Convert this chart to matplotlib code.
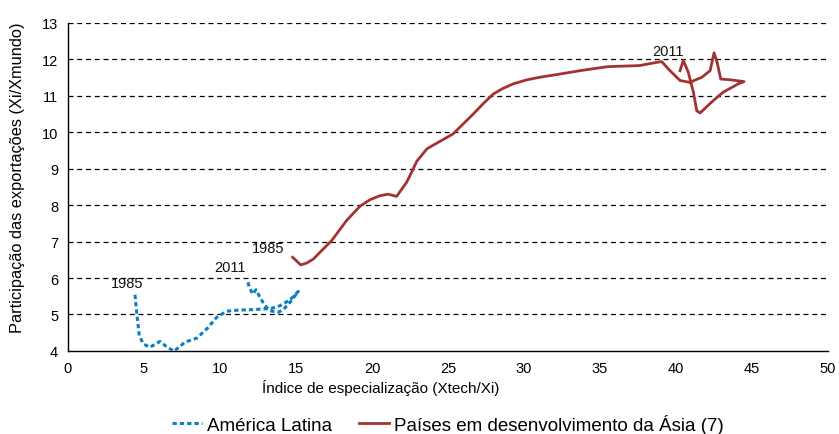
import matplotlib.pyplot as plt

# ---- data ----
# América Latina (1985 -> 2011)
la_x = [4.41, 4.52, 4.69, 4.96, 5.39, 6.05, 6.38, 6.97, 7.70, 8.47, 9.12, 9.78, 10.44,
        11.20, 12.00, 12.85, 13.40, 13.95, 14.60, 15.15, 14.60, 14.20, 13.84, 13.30,
        12.96, 12.63, 12.37, 12.15, 11.93, 11.80]
la_y = [5.54, 5.06, 4.42, 4.19, 4.10, 4.26, 4.15, 3.99, 4.24, 4.35, 4.60, 4.92, 5.09,
        5.12, 5.13, 5.15, 5.17, 5.24, 5.40, 5.63, 5.33, 5.15, 5.06, 5.10,
        5.24, 5.47, 5.68, 5.56, 5.75, 5.93]

# Países em desenvolvimento da Ásia (7) (1985 -> 2011)
as_x = [14.78, 15.31, 15.70, 16.14, 16.80, 17.35, 18.33, 19.21, 19.87, 20.53, 21.07,
        21.62, 22.28, 22.60, 22.94, 23.60, 24.04, 24.47, 25.35, 26.00, 26.66, 27.30,
        27.98, 28.60, 29.30, 30.20, 31.05, 32.40, 33.68, 35.50, 37.60, 38.50, 39.05,
        39.60, 40.26, 40.90, 41.70, 42.24, 42.50, 42.70, 42.94, 43.55, 44.47, 44.10,
        43.10, 42.45, 41.58, 41.36, 41.14, 40.80, 40.48, 40.26]
as_y = [6.57, 6.36, 6.41, 6.52, 6.80, 7.03, 7.58, 7.97, 8.15, 8.26, 8.30,
        8.24, 8.63, 8.90, 9.20, 9.54, 9.65, 9.75, 9.96, 10.23, 10.50, 10.78,
        11.05, 11.20, 11.33, 11.44, 11.51, 11.60, 11.69, 11.80, 11.83, 11.90, 11.94,
        11.69, 11.42, 11.37, 11.51, 11.69, 12.18, 11.92, 11.46, 11.44, 11.39, 11.33,
        11.10, 10.87, 10.53, 10.59, 11.10, 11.65, 11.97, 11.69]

year_labels = ['1985', '2011', '1985', '2011']
label_x = [3.9, 10.66, 13.15, 39.5]
label_y = [5.87, 6.30, 6.83, 12.23]

BLUE = '#0a7fc4'
RED = '#a33333'

plt.rcParams['font.family'] = ['Liberation Sans', 'DejaVu Sans']

fig = plt.figure(figsize=(8.39, 4.35), dpi=100)
ax = fig.add_axes([0.081, 0.191, 0.906, 0.754])

for yv in range(5, 14):
    ax.axhline(yv, color='black', lw=0.9, ls=(0, (4, 3)), zorder=1)

ax.plot(la_x, la_y, color=BLUE, lw=2.2, ls=(0, (1.4, 1.0)), label='América Latina', zorder=3)
ax.plot(as_x, as_y, color=RED, lw=2.0, label='Países em desenvolvimento da Ásia (7)', zorder=3)

for t, x, y in zip(year_labels, label_x, label_y):
    ax.text(x, y, t, fontsize=10.5, ha='center', va='center', color='#111111', zorder=4)

ax.set_xlim(0, 50)
ax.set_ylim(4, 13)
ax.set_xticks(range(0, 51, 5))
ax.set_yticks(range(4, 14))
ax.tick_params(length=0, labelsize=10.5, pad=7)
for s in ['top', 'right']:
    ax.spines[s].set_visible(False)
ax.spines['left'].set_linewidth(1.0)
ax.spines['bottom'].set_linewidth(1.0)

ax.set_xlabel('Índice de especialização (Xtech/Xi)', fontsize=11)
ax.xaxis.set_label_coords(0.412, -0.085)
ax.set_ylabel('Participação das exportações (Xi/Xmundo)', fontsize=11.8)
ax.yaxis.set_label_coords(-0.056, 0.53)

ax.legend(loc='center', bbox_to_anchor=(0.5, -0.222), ncol=2, frameon=False,
          fontsize=13.5, handlelength=1.6, columnspacing=1.4, handletextpad=0.3,
          borderpad=0.1)

fig.savefig('out.png', dpi=100)
